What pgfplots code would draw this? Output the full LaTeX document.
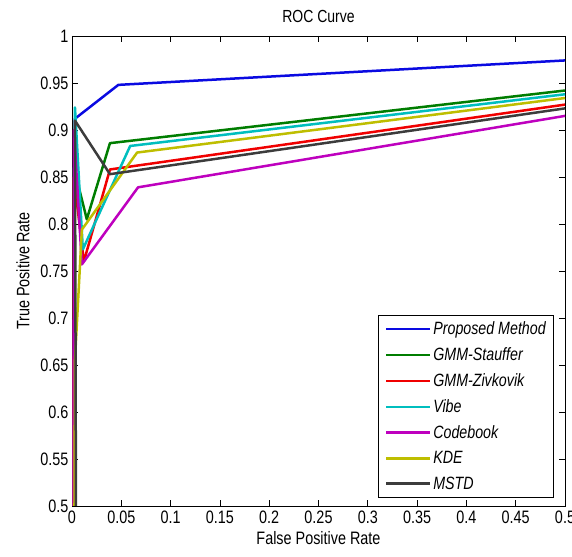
\documentclass[border=0pt]{standalone}
\usepackage{fontspec}
\setmainfont[FakeStretch=0.8]{Liberation Sans}
\usepackage{pgfplots}
\pgfplotsset{compat=1.18}
\definecolor{mblue}{RGB}{10,10,225}
\definecolor{mgreen}{RGB}{0,125,0}
\definecolor{mred}{RGB}{240,0,0}
\definecolor{mcyan}{RGB}{0,190,190}
\definecolor{mmag}{RGB}{190,0,190}
\definecolor{myel}{RGB}{190,190,0}
\definecolor{mblack}{RGB}{60,60,60}
\begin{document}
\begin{tikzpicture}
\begin{axis}[
  scale only axis, width=493pt, height=470pt,
  xmin=0, xmax=0.5, ymin=0.5, ymax=1,
  xtick={0,0.05,...,0.5}, ytick={0.5,0.55,...,1.0},
  xticklabels={0,0.05,0.1,0.15,0.2,0.25,0.3,0.35,0.4,0.45,0.5},
  yticklabels={0.5,0.55,0.6,0.65,0.7,0.75,0.8,0.85,0.9,0.95,1},
  tick align=inside, major tick length=6pt,
  tick style={black, line width=0.8pt},
  axis line style={line width=0.9pt},
  ticklabel style={font=\fontsize{18}{21}\selectfont},
  xticklabel style={yshift=-1pt},
  label style={font=\fontsize{18}{21}\selectfont},
  title style={font=\fontsize{17.5}{20}\selectfont, yshift=4pt},
  title={ROC Curve},
  xlabel={False Positive Rate}, ylabel={True Positive Rate},
  xlabel style={yshift=-1pt},
  ylabel style={yshift=4pt},
  clip=true,
  legend style={at={(0.978,0.017)}, anchor=south east, draw=black, line width=0.8pt,
    font=\fontsize{17.8}{20}\selectfont\itshape, row sep=7.5pt, inner xsep=6pt, inner ysep=5pt},
  legend cell align=left,
  legend image code/.code={\draw[#1] (0pt,0pt) -- (44pt,0pt);},
  every axis plot/.append style={line width=2.5pt, line join=round},
]
\addplot[mblue] coordinates {(0.001,0) (0.003,0.912) (0.047,0.948) (0.5,0.974)};
\addlegendentry{Proposed Method}
\addplot[mgreen] coordinates {(0.001,0) (0.002,0.86) (0.015,0.805) (0.0385,0.886) (0.5,0.942)};
\addlegendentry{GMM-Stauffer}
\addplot[mred] coordinates {(0.001,0) (0.002,0.85) (0.012,0.76) (0.0385,0.858) (0.5,0.927)};
\addlegendentry{GMM-Zivkovik}
\addplot[mcyan] coordinates {(0.001,0) (0.003,0.924) (0.011,0.773) (0.059,0.883) (0.5,0.938)};
\addlegendentry{Vibe}
\addplot[mmag] coordinates {(0.001,0) (0.002,0.90) (0.01,0.757) (0.067,0.839) (0.5,0.915)};
\addlegendentry{Codebook}
\addplot[myel] coordinates {(0.001,0) (0.003,0.655) (0.01,0.794) (0.066,0.876) (0.5,0.934)};
\addlegendentry{KDE}
\addplot[mblack] coordinates {(0.001,0) (0.004,0.5) (0.003,0.91) (0.0385,0.853) (0.5,0.923)};
\addlegendentry{MSTD}
\end{axis}
\pgfresetboundingbox
\path (-72pt,-50pt) rectangle (500pt,506pt);
\end{tikzpicture}
\end{document}
